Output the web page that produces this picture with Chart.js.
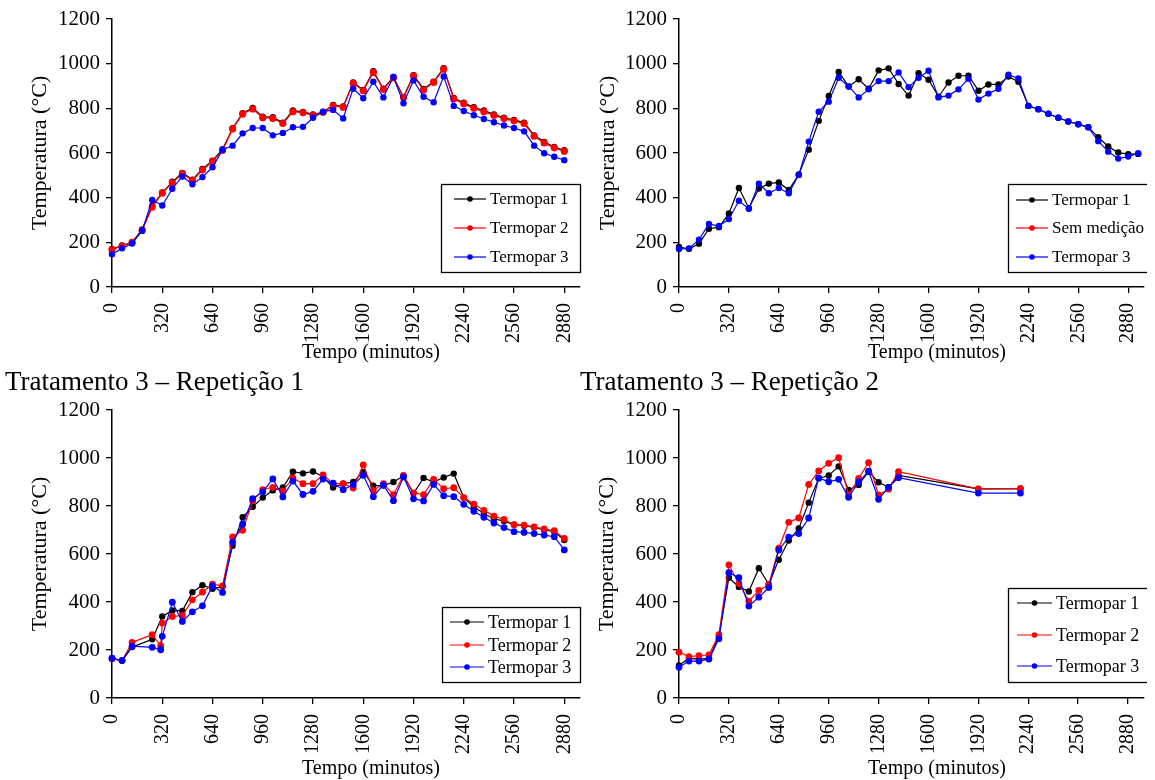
<!DOCTYPE html>
<html><head><meta charset="utf-8">
<script src="https://cdn.jsdelivr.net/npm/chart.js@4/dist/chart.umd.min.js"></script>
<style>
html,body{margin:0;padding:0;background:#fff;}
body{width:1155px;height:780px;position:relative;overflow:hidden;}
canvas{position:absolute;}
.lbl{position:absolute;white-space:nowrap;color:#000;font-family:"Liberation Serif","Times New Roman",serif;}
</style></head><body>
<canvas id="c1" width="600" height="375" style="left:0;top:0"></canvas>
<canvas id="c2" width="580" height="375" style="left:567px;top:0"></canvas>
<canvas id="c3" width="600" height="390" style="left:0;top:390px"></canvas>
<canvas id="c4" width="580" height="390" style="left:567px;top:390px"></canvas>
<div class="lbl" style="left:5px;top:368px;font-size:27px;line-height:27px">Tratamento 3 – Repetição 1</div>
<div class="lbl" style="left:580px;top:368px;font-size:27px;line-height:27px">Tratamento 3 – Repetição 2</div>
<div class="lbl" style="left:271px;width:200px;text-align:center;top:341px;font-size:20px;line-height:20px">Tempo (minutos)</div>
<div class="lbl" style="left:837px;width:200px;text-align:center;top:341px;font-size:20px;line-height:20px">Tempo (minutos)</div>
<div class="lbl" style="left:271px;width:200px;text-align:center;top:757px;font-size:20px;line-height:20px">Tempo (minutos)</div>
<div class="lbl" style="left:837px;width:200px;text-align:center;top:757px;font-size:20px;line-height:20px">Tempo (minutos)</div>
<script>
// ---- tick labels ----
const xTicks = [0,320,640,960,1280,1600,1920,2240,2560,2880];
const xTickLabels = ['0','320','640','960','1280','1600','1920','2240','2560','2880'];
const yTicks = [0,200,400,600,800,1000,1200];
const yTickLabels = ['0','200','400','600','800','1000','1200'];
const seriesNames = ['Termopar 1','Termopar 2','Termopar 3'];
const seriesNames2 = ['Termopar 1','Sem medição','Termopar 3'];

// ---- Panel 1 (top left) ----
const p1Time = [0,64,128,192,256,320,384,448,512,576,640,704,768,832,896,960,1024,1088,1152,1216,1280,1344,1408,1472,1536,1600,1664,1728,1792,1856,1920,1984,2048,2112,2176,2240,2304,2368,2432,2496,2560,2624,2688,2752,2816,2880];
const p1T1 = [170,186,200,258,364,423,471,511,481,529,566,617,711,778,802,763,760,736,790,784,773,782,815,808,916,882,966,888,940,851,948,887,919,980,846,825,805,790,773,758,748,736,679,650,627,612];
const p1T2 = [167,183,200,253,358,420,466,508,477,524,562,612,708,775,797,758,755,732,785,781,769,782,811,805,912,879,961,885,937,848,945,882,916,976,842,821,800,785,769,754,744,732,675,645,623,608];
const p1T3 = [147,173,195,252,390,365,440,495,460,492,536,615,633,688,712,712,679,690,715,717,758,785,793,755,888,845,919,849,940,823,925,852,827,943,811,788,769,752,738,723,712,697,633,599,583,568];

// ---- Panel 2 (top right) ----
const p2Time = [0,64,128,192,256,320,384,448,512,576,640,704,768,832,896,960,1024,1088,1152,1216,1280,1344,1408,1472,1536,1600,1664,1728,1792,1856,1920,1984,2048,2112,2176,2240,2304,2368,2432,2496,2560,2624,2688,2752,2816,2880,2944];
const p2T1 = [179,171,194,261,268,329,443,353,441,463,468,434,504,615,744,855,963,898,930,888,970,979,909,857,957,928,852,916,946,946,879,907,907,942,919,811,796,776,758,741,729,715,671,629,602,595,596];
const p2T2 = [];
const p2T3 = [170,173,212,282,273,304,386,350,462,420,443,420,502,651,785,830,937,898,849,885,922,922,961,895,937,968,849,857,885,933,839,866,888,951,934,811,796,776,758,741,729,715,653,606,575,584,599];

// ---- Panel 3 (Tratamento 3 – Repetição 1) ----
const p3Time = [0,64,128,256,310,320,384,448,512,576,640,704,768,832,896,960,1024,1088,1152,1216,1280,1344,1408,1472,1536,1600,1664,1728,1792,1856,1920,1984,2048,2112,2176,2240,2304,2368,2432,2496,2560,2624,2688,2752,2816,2880];
const p3T1 = [164,156,212,245,null,340,365,363,441,470,455,465,634,753,797,835,865,877,943,936,944,922,877,893,900,942,885,885,900,925,853,917,900,919,935,835,797,769,747,737,722,718,711,700,693,658];
const p3T2 = [164,156,232,264,218,312,340,343,409,441,474,467,671,699,821,868,878,863,917,893,893,930,893,893,875,971,865,893,847,928,855,847,911,872,876,835,808,782,758,744,722,720,713,705,697,665];
const p3T3 = [166,156,216,211,201,257,399,319,359,384,467,440,649,724,831,859,913,838,904,848,861,912,895,868,889,928,839,888,822,921,830,821,890,843,839,807,778,753,729,710,693,690,685,679,672,617];

// ---- Panel 4 (Tratamento 3 – Repetição 2) ----
const p4Time = [0,64,128,192,256,320,384,448,512,576,640,704,768,832,896,960,1024,1088,1152,1216,1280,1344,1408,1920,2190];
const p4T1 = [136,165,162,165,257,501,463,444,541,474,576,656,706,814,915,927,965,867,888,943,899,878,927,871,871];
const p4T2 = [191,172,176,180,264,555,477,404,448,472,624,732,750,890,946,978,1001,846,915,981,846,870,943,871,873];
const p4T3 = [128,154,154,162,247,522,501,383,420,460,617,670,685,750,917,901,911,836,900,945,828,878,918,854,854];

const xMax = 2980;
const COLORS = ['#000000','#ff0000','#0000ff'];
const FONT = 'Liberation Serif';

const boxLegend = {
  id: 'boxLegend',
  afterDraw(chart, args, o) {
    const ctx = chart.ctx;
    ctx.save();
    ctx.fillStyle = '#fff';
    ctx.fillRect(o.left, o.top, o.right - o.left, o.bottom - o.top);
    ctx.lineWidth = 1.3; ctx.strokeStyle = '#000';
    ctx.strokeRect(o.left + 0.5, o.top + 0.5, o.right - o.left, o.bottom - o.top);
    ctx.font = o.font + 'px "' + FONT + '"';
    ctx.textBaseline = 'middle'; ctx.textAlign = 'left';
    chart.data.datasets.forEach((ds, i) => {
      const y = o.rows[i];
      ctx.strokeStyle = ds.borderColor; ctx.lineWidth = 1.2;
      ctx.beginPath(); ctx.moveTo(o.x1, y); ctx.lineTo(o.x2, y); ctx.stroke();
      ctx.fillStyle = ds.borderColor;
      ctx.beginPath(); ctx.arc((o.x1 + o.x2) / 2, y, 2.8, 0, Math.PI * 2); ctx.fill();
      ctx.fillStyle = '#000';
      ctx.fillText(ds.label, o.tx, y + 1);
    });
    ctx.restore();
  }
};

function pts(time, vals) { return vals.map((v, i) => ({x: time[i], y: v})); }

function makeDatasets(time, names, series, radii) {
  return series.map((vals, i) => ({
    label: names[i],
    data: pts(time, vals),
    borderColor: COLORS[i],
    backgroundColor: COLORS[i],
    borderWidth: 1.2,
    pointRadius: radii[i],
    pointBorderWidth: 0,
    pointHoverRadius: radii[i],
    spanGaps: true,
    tension: 0,
    clip: false,
    order: 3 - i
  }));
}

function makeChart(id, datasets, L) {
  new Chart(document.getElementById(id), {
    type: 'line',
    data: {datasets},
    plugins: [boxLegend],
    options: {
      responsive: false, animation: false, devicePixelRatio: 1,
      events: [],
      layout: {padding: {top: L.padTop, right: L.padRight, left: 0, bottom: 0}},
      plugins: {legend: {display: false}, tooltip: {enabled: false}, boxLegend: L.legend},
      scales: {
        x: {
          type: 'linear', min: 0, max: xMax,
          afterBuildTicks: s => { s.ticks = xTicks.map(v => ({value: v})); },
          afterFit: s => { s.height = L.xH; s.paddingLeft = 0; s.paddingRight = 0; },
          ticks: {minRotation: 90, maxRotation: 90, autoSkip: false, padding: 10, color: '#000',
                  font: {family: FONT, size: 20}, callback: (v, i) => xTickLabels[i]},
          grid: {drawOnChartArea: false, drawTicks: true, tickLength: 6, color: '#000', lineWidth: 1.3},
          border: {display: true, color: '#000', width: 1.5}
        },
        y: {
          type: 'linear', min: 0, max: 1200,
          afterBuildTicks: s => { s.ticks = yTicks.map(v => ({value: v})); },
          afterFit: s => { s.width = 112; },
          title: {display: true, text: 'Temperatura (°C)', color: '#000',
                  font: {family: FONT, size: 22}, padding: {top: L.yTitlePad, bottom: 0}},
          ticks: {padding: 6, color: '#000', font: {family: FONT, size: 21},
                  callback: (v, i) => yTickLabels[i]},
          grid: {drawOnChartArea: false, drawTicks: true, tickLength: 6, color: '#000', lineWidth: 1.3},
          border: {display: true, color: '#000', width: 1.5}
        }
      }
    }
  });
}

makeChart('c1', makeDatasets(p1Time, seriesNames, [p1T1, p1T2, p1T3], [3.2, 3.6, 3.2]),
  {padTop: 19, padRight: 20, xH: 88, yTitlePad: 27,
   legend: {left: 441, top: 184, right: 580, bottom: 272, x1: 454, x2: 486, tx: 490, rows: [199, 228, 257], font: 17}});
makeChart('c2', makeDatasets(p2Time, seriesNames2, [p2T1, p2T2, p2T3], [3.2, 3.2, 3.2]),
  {padTop: 19, padRight: 0, xH: 88, yTitlePad: 28,
   legend: {left: 441, top: 184, right: 590, bottom: 272, x1: 449, x2: 481, tx: 485, rows: [200, 228, 257], font: 17}});
makeChart('c3', makeDatasets(p3Time, seriesNames, [p3T1, p3T2, p3T3], [3.2, 3.4, 3.4]),
  {padTop: 20, padRight: 20, xH: 82, yTitlePad: 27,
   legend: {left: 442, top: 217, right: 580, bottom: 292, x1: 450, x2: 484, tx: 488, rows: [232, 255, 277], font: 18}});
makeChart('c4', makeDatasets(p4Time, seriesNames, [p4T1, p4T2, p4T3], [3.2, 3.4, 3.4]),
  {padTop: 20, padRight: 0, xH: 82, yTitlePad: 27,
   legend: {left: 441, top: 198, right: 590, bottom: 292, x1: 450, x2: 485, tx: 489, rows: [213, 245, 276], font: 18}});
</script>
</body></html>
